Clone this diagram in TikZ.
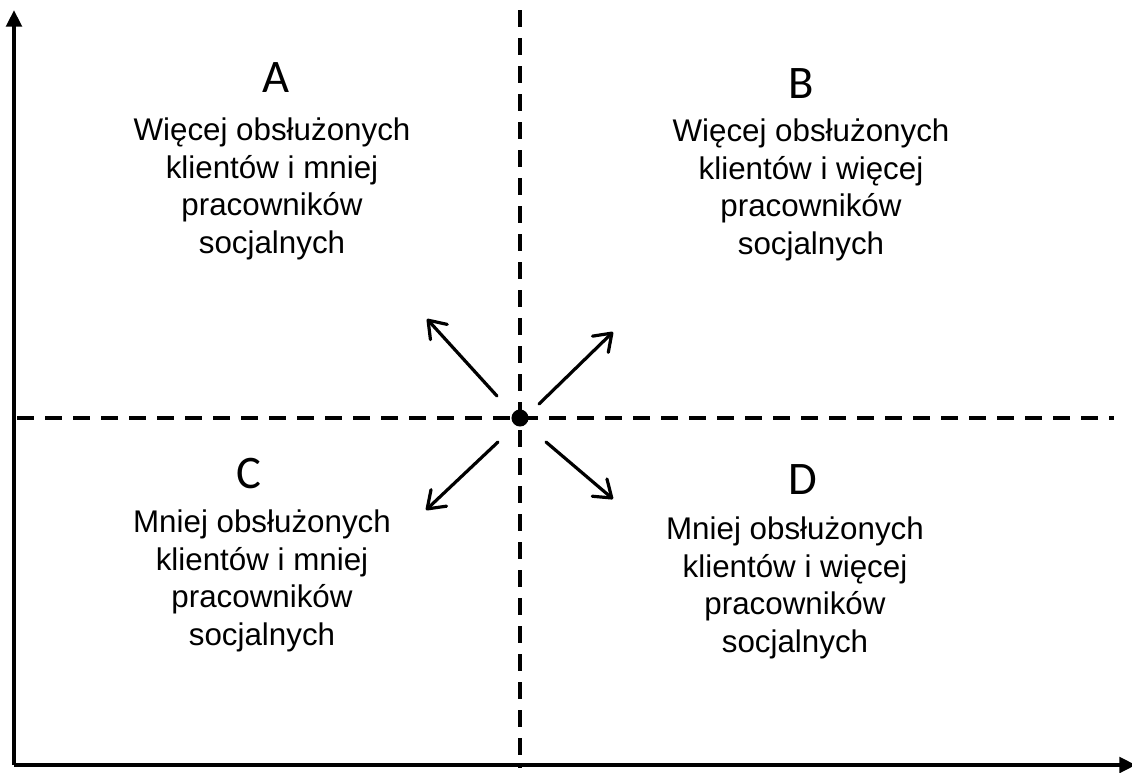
\documentclass[tikz,border=0pt]{standalone}
\usepackage{fontspec}
\newfontfamily\arialf{Liberation Sans}
\newfontfamily\calf{Carlito}
\usetikzlibrary{arrows.meta}
\tikzset{
  axis/.style={line width=3.2pt,-{Triangle[length=12.5pt,width=11.5pt]}},
  divider/.style={line width=3.2pt,dash pattern=on 12.75pt off 8.25pt},
  move/.style={line width=2.4pt,line cap=round,-{Straight Barb[length=12pt,width=17pt,line cap=round,line join=round]}},
  letter/.style={font=\calf\fontsize{35}{40}\selectfont,inner sep=0pt},
  body/.style={font=\arialf\fontsize{23.5}{28.3}\selectfont,align=center,inner sep=0pt},
}
\begin{document}
\begin{tikzpicture}[x=0.75pt,y=-0.75pt]
\useasboundingbox (0,0) rectangle (1132,772);
% axes
\coordinate (org) at (14,765);
\coordinate (ytop) at (14,10);
\coordinate (xend) at (1136,765);
\draw[axis] (org) -- (ytop);
\draw[axis] (org) -- (xend);
% dividers
\coordinate (vt) at (520,10);
\coordinate (vb) at (520,768);
\coordinate (hl) at (17,418);
\coordinate (hr) at (1114,418);
\draw[divider] (vt) -- (vb);
\draw[divider] (hl) -- (hr);
% centre dot
\node[circle,fill=black,minimum size=12.8pt,inner sep=0pt] (o) at (520,418) {};
% arrows
\coordinate (s1) at (497,396); \coordinate (t1) at (427,319);
\coordinate (s2) at (539,404); \coordinate (t2) at (613,332);
\coordinate (s3) at (498,442); \coordinate (t3) at (426,510);
\coordinate (s4) at (546,442); \coordinate (t4) at (613,499);
\draw[move] (s1) -- (t1);
\draw[move] (s2) -- (t2);
\draw[move] (s3) -- (t3);
\draw[move] (s4) -- (t4);
% letters
\node[letter] (la) at (276,78) {A};
\node[letter] (lb) at (801,84) {B};
\node[letter] (lc) at (249,474) {C};
\node[letter] (ld) at (803,480) {D};
% texts
\node[body] (ta) at (272,189) {Więcej obsłużonych\\klientów i mniej\\pracowników\\socjalnych};
\node[body] (tb) at (811,190) {Więcej obsłużonych\\klientów i więcej\\pracowników\\socjalnych};
\node[body] (tc) at (262,581) {Mniej obsłużonych\\klientów i mniej\\pracowników\\socjalnych};
\node[body] (td) at (795,588) {Mniej obsłużonych\\klientów i więcej\\pracowników\\socjalnych};
\end{tikzpicture}
\end{document}
